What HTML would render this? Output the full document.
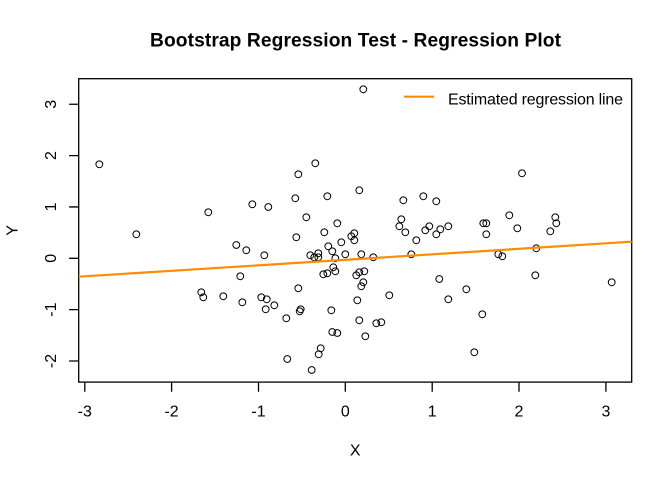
<!DOCTYPE html>
<html>
<head>
<meta charset="utf-8">
<style>
html,body{margin:0;padding:0;background:#fff;}
svg{display:block;}
text{font-family:"Liberation Sans",Arial,sans-serif;fill:#000;}
</style>
</head>
<body>
<svg width="672" height="480" viewBox="0 0 672 480" xmlns="http://www.w3.org/2000/svg">
<defs>
<marker id="pt" markerUnits="userSpaceOnUse" markerWidth="10" markerHeight="10" refX="5" refY="5" overflow="visible">
<circle cx="5" cy="5" r="3.4" fill="none" stroke="#000" stroke-width="1"/>
</marker>
</defs>
<rect x="0" y="0" width="672" height="480" fill="#fff"/>
<text x="355.5" y="46.7" font-size="19.2" font-weight="bold" text-anchor="middle" textLength="411">Bootstrap Regression Test - Regression Plot</text>
<rect x="78.7" y="78.7" width="553" height="303.4" fill="none" stroke="#000" stroke-width="1.3"/>
<path stroke="#000" stroke-width="1.3" fill="none" d="M84.8 382.1V391.7M171.6 382.1V391.7M258.5 382.1V391.7M345.3 382.1V391.7M432.2 382.1V391.7M519 382.1V391.7M605.9 382.1V391.7M69.1 361H78.7M69.1 309.65H78.7M69.1 258.3H78.7M69.1 206.95H78.7M69.1 155.6H78.7M69.1 104.25H78.7"/>
<g font-size="16" text-anchor="middle">
<text x="84.8" y="416.7">-3</text>
<text x="171.6" y="416.7">-2</text>
<text x="258.5" y="416.7">-1</text>
<text x="345.3" y="416.7">0</text>
<text x="432.2" y="416.7">1</text>
<text x="519.0" y="416.7">2</text>
<text x="605.9" y="416.7">3</text>
<text transform="translate(56,361.0) rotate(-90)">-2</text>
<text transform="translate(56,309.65) rotate(-90)">-1</text>
<text transform="translate(56,258.3) rotate(-90)">0</text>
<text transform="translate(56,206.95) rotate(-90)">1</text>
<text transform="translate(56,155.6) rotate(-90)">2</text>
<text transform="translate(56,104.25) rotate(-90)">3</text>
<text x="355.2" y="455.7">X</text>
<text transform="translate(17.7,230.4) rotate(-90)">Y</text>
</g>
<polyline fill="none" stroke="none" marker-start="url(#pt)" marker-mid="url(#pt)" marker-end="url(#pt)" points="99.3,164.3 136.3,234.3 208.3,212.3 252.3,204.3 268.3,207 236.3,245 246.3,250.3 264.3,255.3 240.3,276.3 295.3,198.3 298.3,174.3 315.3,163.3 327.3,196.3 306.3,217.3 296.3,237.3 324.3,232.3 337.3,223.3 328.3,246.3 332.3,251.3 310.3,255.3 318.3,253.3 314.3,257.3 318.3,257.3 335.3,258.3 341.3,242.3 323.3,274.3 327.3,273.3 333.3,267.3 335.3,271.3 201.3,292.3 203.3,297.3 223.3,296.3 242.3,302.3 261.3,297.3 266.7,299.3 265.7,309.3 274.3,305.3 286.3,318.3 298.3,288.3 299.7,311.3 300.7,309.3 287.3,359 311.7,370 318.7,354.3 320.7,348.3 331.3,310.3 332.3,332 337.3,333 363.3,89.3 522,173.3 359.3,190.3 403.3,200.3 423.3,196.3 436.3,201.3 401.3,219.3 399.3,226.3 405.3,232.3 416.3,240.3 425.3,230.3 429.3,226.3 436.3,234.3 440.3,229.3 448.3,226.3 483.3,223.3 486.3,223.3 486.3,234.3 509.3,215.3 517.3,228.3 555.3,217.3 556.3,223.3 550.3,231.3 354.3,233.3 351.3,236.3 354.3,240.3 345.3,254.3 361.3,254.3 373.3,257.3 411.3,254.3 498.3,254.3 502.3,256.3 536.3,248.3 356.3,275.3 359.3,272.3 364.3,271.3 535.3,275.3 439.3,279 363.3,282.3 361.3,286.3 611.7,282.3 389.3,295.3 448.3,299.3 466.3,289.3 357.3,300.3 482.3,314.3 359.3,320.3 376.3,323.3 381.3,322.3 365.3,336.3 474.3,352.3"/>
<line x1="78.7" y1="276.7" x2="631.7" y2="241.7" stroke="#FF8C00" stroke-width="2.2"/>
<line x1="404" y1="96.7" x2="434" y2="96.7" stroke="#FF8C00" stroke-width="2.2"/>
<text x="448" y="104.5" font-size="16" textLength="175">Estimated regression line</text>
</svg>
</body>
</html>
